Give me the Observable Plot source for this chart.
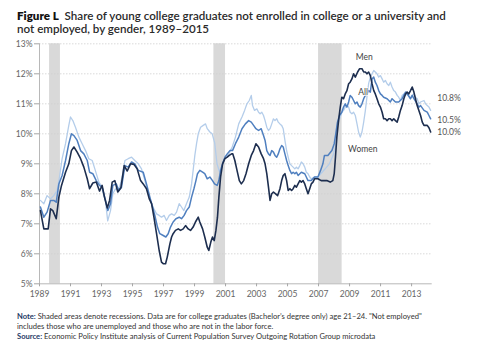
<!DOCTYPE html>
<html>
<head>
<meta charset="utf-8">
<script src="https://cdn.jsdelivr.net/npm/d3@7"></script>
<script src="https://cdn.jsdelivr.net/npm/@observablehq/plot@0.6"></script>
<style>
  html, body { margin: 0; padding: 0; background: #fff; width: 488px; height: 357px; overflow: hidden; }
  #wrap { position: relative; width: 488px; height: 357px; }
  #title { position: absolute; left: 17px; top: 10px; width: 470px; font-family: Lato, sans-serif; font-size: 11.6px; font-weight: 600; line-height: 12.8px; color: #2a2a2a; z-index: 2; white-space: nowrap; }
  #title b { font-weight: 800; color: #111; }
  #chart { position: absolute; left: 0; top: 0; z-index: 1; }
  #notes { position: absolute; left: 17px; top: 310.5px; width: 470px; font-family: Lato, sans-serif; font-size: 7.6px; line-height: 10.2px; color: #333; z-index: 2; white-space: nowrap; }
  #notes b { font-weight: 700; color: #1f3a66; }
</style>
</head>
<body>
<div id="wrap">
  <div id="title"><b>Figure L</b>&nbsp; Share of young college graduates not enrolled in college or a university and<br>not employed, by gender, 1989–2015</div>
  <div id="chart"></div>
  <div id="notes"><b>Note:</b> Shaded areas denote recessions. Data are for college graduates (Bachelor’s degree only) age 21–24. "Not employed"<br>includes those who are unemployed and those who are not in the labor force.<br><b>Source:</b> Economic Policy Institute analysis of Current Population Survey Outgoing Rotation Group microdata</div>
</div>
<script>
// ---- data ----
const menYears = [1989.06,1989.28,1989.56,1989.71,1989.86,1990.08,1990.25,1990.42,1990.68,1990.89,1991.06,1991.22,1991.43,1991.65,1991.86,1992.08,1992.23,1992.44,1992.66,1992.87,1993.04,1993.19,1993.37,1993.52,1993.69,1993.86,1994.05,1994.25,1994.46,1994.66,1994.87,1995.09,1995.30,1995.52,1995.69,1995.90,1996.08,1996.23,1996.38,1996.55,1996.72,1996.87,1996.98,1997.13,1997.24,1997.41,1997.52,1997.62,1997.77,1997.95,1998.10,1998.27,1998.42,1998.59,1998.74,1998.91,1999.06,1999.24,1999.34,1999.52,1999.66,1999.82,1999.92,2000.05,2000.16,2000.27,2000.38,2000.48,2000.57,2000.68,2000.81,2000.96,2001.11,2001.24,2001.39,2001.47,2001.60,2001.74,2001.89,2002.02,2002.17,2002.32,2002.49,2002.66,2002.81,2002.96,2003.13,2003.30,2003.45,2003.55,2003.66,2003.77,2003.87,2003.98,2004.09,2004.23,2004.36,2004.51,2004.62,2004.72,2004.83,2004.94,2005.04,2005.15,2005.26,2005.36,2005.47,2005.57,2005.68,2005.79,2005.89,2006.00,2006.11,2006.21,2006.32,2006.43,2006.53,2006.64,2006.74,2006.96,2007.17,2007.38,2007.53,2007.75,2007.92,2008.01,2008.09,2008.18,2008.29,2008.40,2008.50,2008.61,2008.72,2008.83,2008.94,2009.04,2009.15,2009.26,2009.37,2009.52,2009.65,2009.80,2009.91,2010.02,2010.12,2010.23,2010.34,2010.45,2010.56,2010.66,2010.77,2010.88,2010.99,2011.10,2011.20,2011.31,2011.42,2011.53,2011.63,2011.74,2011.85,2011.96,2012.07,2012.17,2012.28,2012.39,2012.50,2012.61,2012.71,2012.82,2012.93,2013.04,2013.15,2013.25,2013.36,2013.47,2013.58,2013.69,2013.80,2014.01,2014.12,2014.23];
const menValues = [7.44,6.83,6.83,7.50,7.44,7.17,7.89,8.28,8.72,9.00,9.44,9.56,9.39,9.17,8.89,8.50,8.17,8.36,8.39,8.09,8.28,7.89,7.53,7.78,8.39,8.44,8.06,8.20,8.94,8.76,9.00,8.98,8.83,8.44,8.33,8.17,7.83,7.67,7.22,6.67,6.11,5.72,5.67,5.67,5.89,6.33,6.56,6.67,6.78,6.83,6.78,6.83,6.94,6.83,6.78,6.89,7.06,7.22,7.06,6.83,6.56,6.22,6.11,6.39,6.56,6.44,6.78,7.22,7.89,8.56,9.00,9.17,9.22,9.28,9.33,9.33,9.11,8.78,8.44,8.33,8.44,8.67,9.00,9.28,9.44,9.67,9.56,9.33,9.17,9.00,8.67,8.22,7.78,8.00,8.06,8.00,7.94,8.17,8.44,8.61,8.67,8.44,8.11,8.17,8.11,8.17,8.28,8.22,8.33,8.44,8.39,8.44,8.33,8.17,8.00,8.17,8.33,8.39,8.50,8.50,8.44,8.44,8.44,8.39,8.44,8.67,9.22,9.89,10.44,10.89,11.22,11.17,11.33,11.44,11.67,11.72,11.83,12.00,11.89,12.06,12.17,12.17,12.06,12.06,12.00,12.06,11.94,11.67,11.44,11.33,11.17,11.00,10.89,10.72,10.50,10.50,10.44,10.50,10.50,10.44,10.50,10.44,10.39,10.56,10.78,10.94,11.17,11.33,11.39,11.33,11.44,11.56,11.39,11.17,10.94,10.78,10.61,10.39,10.28,10.28,10.20,10.06];

const allYears = [1989.06,1989.28,1989.49,1989.71,1989.92,1990.08,1990.25,1990.46,1990.68,1990.89,1991.06,1991.22,1991.43,1991.65,1991.86,1992.08,1992.23,1992.44,1992.66,1992.87,1993.04,1993.26,1993.41,1993.58,1993.73,1993.95,1994.12,1994.29,1994.51,1994.72,1994.94,1995.15,1995.37,1995.69,1995.90,1996.12,1996.29,1996.44,1996.61,1996.76,1996.98,1997.15,1997.30,1997.45,1997.62,1997.80,1998.01,1998.16,1998.33,1998.48,1998.66,1998.81,1998.96,1999.09,1999.19,1999.34,1999.52,1999.66,1999.82,1999.99,2000.16,2000.29,2000.46,2000.57,2000.68,2000.81,2000.96,2001.11,2001.28,2001.45,2001.64,2001.85,2002.06,2002.28,2002.49,2002.66,2002.81,2002.96,2003.13,2003.30,2003.45,2003.55,2003.66,2003.77,2003.87,2003.98,2004.09,2004.19,2004.30,2004.40,2004.51,2004.62,2004.72,2004.83,2004.94,2005.04,2005.15,2005.26,2005.36,2005.47,2005.57,2005.68,2005.79,2005.89,2006.11,2006.21,2006.32,2006.53,2006.74,2006.96,2007.13,2007.28,2007.38,2007.60,2007.86,2008.01,2008.11,2008.22,2008.35,2008.50,2008.61,2008.72,2008.83,2008.94,2009.04,2009.15,2009.26,2009.37,2009.48,2009.58,2009.69,2009.80,2009.91,2010.02,2010.12,2010.23,2010.34,2010.45,2010.56,2010.66,2010.77,2010.88,2010.99,2011.10,2011.20,2011.42,2011.63,2011.74,2011.96,2012.17,2012.39,2012.50,2012.61,2012.71,2012.93,2013.04,2013.15,2013.36,2013.47,2013.58,2013.80,2014.01,2014.12,2014.23];
const allValues = [7.56,7.22,7.39,7.78,7.78,7.72,8.33,8.61,9.11,9.67,10.00,9.94,9.78,9.44,9.33,9.11,8.72,8.67,8.44,8.28,8.22,7.78,7.44,7.67,8.28,8.33,8.11,8.22,8.94,8.89,9.06,9.00,8.78,8.72,8.33,7.89,7.56,7.28,6.89,6.67,6.61,6.56,6.67,6.89,7.06,7.17,7.22,7.17,7.28,7.44,7.56,7.89,8.17,8.44,8.67,8.78,8.72,8.67,8.50,8.56,8.44,8.33,8.28,8.44,8.78,9.00,9.22,9.33,9.44,9.44,9.67,9.89,10.17,10.33,10.44,10.39,10.28,10.17,10.11,10.17,9.94,9.78,9.44,9.33,9.28,9.44,9.39,9.28,9.22,9.33,9.50,9.61,9.56,9.33,9.11,8.94,8.78,8.67,8.72,8.67,8.72,8.61,8.67,8.72,8.67,8.56,8.44,8.44,8.56,8.56,8.78,9.00,9.28,9.28,9.44,9.67,10.00,10.39,10.61,10.72,10.89,11.00,10.89,11.06,11.28,11.22,11.11,11.00,11.06,10.94,10.89,11.00,11.17,11.28,11.33,11.44,11.39,11.83,11.89,11.72,11.61,11.44,11.33,11.28,11.22,11.17,11.06,11.17,11.06,11.06,11.17,11.28,11.39,11.33,11.17,11.28,11.17,11.00,10.89,10.94,10.78,10.72,10.61,10.50];

const womenYears = [1989.06,1989.28,1989.49,1989.71,1989.92,1990.14,1990.29,1990.46,1990.68,1990.89,1991.00,1991.15,1991.32,1991.54,1991.75,1991.97,1992.18,1992.40,1992.57,1992.83,1993.04,1993.26,1993.40,1993.58,1993.73,1993.90,1994.12,1994.33,1994.51,1994.72,1994.94,1995.15,1995.37,1995.58,1995.80,1996.01,1996.23,1996.38,1996.55,1996.72,1996.87,1997.04,1997.19,1997.37,1997.52,1997.69,1997.84,1998.01,1998.16,1998.31,1998.48,1998.66,1998.81,1998.91,1999.02,1999.13,1999.24,1999.39,1999.56,1999.71,1999.82,1999.99,2000.14,2000.30,2000.45,2000.60,2000.75,2000.90,2001.05,2001.21,2001.43,2001.64,2001.85,2002.06,2002.23,2002.38,2002.53,2002.66,2002.74,2002.87,2003.02,2003.13,2003.23,2003.34,2003.45,2003.55,2003.66,2003.77,2003.87,2003.98,2004.09,2004.19,2004.30,2004.40,2004.51,2004.62,2004.72,2004.83,2004.94,2005.04,2005.15,2005.26,2005.36,2005.47,2005.57,2005.68,2005.79,2005.89,2006.00,2006.11,2006.21,2006.32,2006.43,2006.53,2006.64,2006.74,2006.96,2007.20,2007.45,2007.70,2007.95,2008.10,2008.18,2008.29,2008.40,2008.50,2008.61,2008.72,2008.83,2008.94,2009.04,2009.15,2009.26,2009.37,2009.48,2009.58,2009.69,2009.80,2009.91,2010.02,2010.12,2010.23,2010.34,2010.45,2010.56,2010.66,2010.77,2010.88,2010.99,2011.10,2011.20,2011.31,2011.42,2011.53,2011.63,2011.74,2011.85,2011.96,2012.07,2012.17,2012.28,2012.39,2012.50,2012.61,2012.71,2012.82,2012.93,2013.04,2013.15,2013.25,2013.36,2013.47,2013.58,2013.80,2013.90,2014.01,2014.12,2014.23];
const womenValues = [7.78,7.67,7.94,7.83,7.94,8.11,8.56,9.17,9.67,10.28,10.56,10.44,10.22,9.89,9.67,9.44,9.17,9.11,8.83,8.39,8.22,7.72,7.10,7.44,8.00,8.17,8.11,8.56,9.11,9.17,9.22,9.11,9.00,8.83,8.44,8.00,7.67,7.50,7.33,7.28,7.22,7.28,7.11,7.28,7.33,7.28,7.39,7.67,7.56,7.44,7.67,7.89,8.33,8.78,9.28,9.67,10.00,10.22,10.28,10.33,10.17,10.06,10.00,9.70,9.00,8.75,8.90,9.15,9.20,9.33,9.56,9.89,10.33,10.56,10.78,11.00,11.11,11.28,10.94,10.78,10.83,10.72,10.67,10.72,10.61,10.44,10.22,10.11,10.17,10.33,10.50,10.44,10.50,10.39,10.33,10.28,10.17,9.78,9.44,9.22,9.00,8.94,8.89,8.83,8.89,8.83,8.94,9.06,9.00,8.89,8.72,8.67,8.56,8.50,8.53,8.56,8.56,8.70,8.85,9.00,9.30,9.60,10.22,10.39,10.56,10.72,10.78,10.89,10.94,10.89,10.72,10.67,10.72,10.61,10.33,10.06,9.89,10.06,10.39,10.78,11.22,11.67,11.89,12.00,12.11,12.06,12.00,11.89,11.94,11.83,11.72,11.78,11.67,11.61,11.72,11.56,11.44,11.39,11.28,11.22,11.11,11.28,11.33,11.28,11.39,11.28,11.17,11.28,11.33,11.22,11.17,11.00,11.06,11.11,11.00,10.94,10.89,10.78];

const recessionStarts = [1989.65, 2000.25, 2007.0];
const recessionEnds   = [1990.35, 2001.0, 2008.52];

const xTickYears = [1989,1991,1993,1995,1997,1999,2001,2003,2005,2007,2009,2011,2013];
const yTickValues = [5,6,7,8,9,10,11,12,13];
const yTickLabels = ["5%","6%","7%","8%","9%","10%","11%","12%","13%"];
const xEnd = 2014.33;

const seriesNames = ["Men", "All", "Women"];
const seriesLabelYears = [2009.95, 2009.88, 2009.85];
const seriesLabelValues = [12.55, 11.38, 9.48];

const endLabels = ["10.8%", "10.5%", "10.0%"];
const endLabelValues = [11.17, 10.44, 10.05];

// ---- build tables ----
const toRows = (xs, ys) => xs.map((x, i) => ({x, y: ys[i]}));
const men = toRows(menYears, menValues);
const all = toRows(allYears, allValues);
const women = toRows(womenYears, womenValues);
const recessions = recessionStarts.map((s, i) => ({x1: s, x2: recessionEnds[i]}));
const seriesLabels = seriesNames.map((t, i) => ({t, x: seriesLabelYears[i], y: seriesLabelValues[i]}));
const ends = endLabels.map((t, i) => ({t, x: xEnd, y: endLabelValues[i]}));

const font = "Lato, sans-serif";
const chart = Plot.plot({
  width: 488,
  height: 305,
  marginLeft: 39,
  marginRight: 56.3,
  marginTop: 43.3,
  marginBottom: 21.7,
  style: {background: "transparent", fontFamily: font, overflow: "visible"},
  x: {domain: [1989, xEnd], label: null},
  y: {domain: [5, 13], label: null},
  marks: [
    Plot.rect(recessions, {x1: "x1", x2: "x2", y1: 5, y2: 13, fill: "#d9d9d9"}),
    Plot.ruleY(yTickValues.filter(v => v > 5), {x1: 1989, x2: xEnd, stroke: "#cfcfcf", strokeWidth: 0.8, strokeDasharray: "1.5,1.5"}),
    Plot.ruleX([1989], {y1: 5, y2: 13, stroke: "#a6a6a6", strokeWidth: 0.8}),
    Plot.ruleY([5], {x1: 1989, x2: xEnd, stroke: "#a6a6a6", strokeWidth: 0.8}),
    Plot.axisY({ticks: yTickValues, tickFormat: (d) => yTickLabels[yTickValues.indexOf(d)], tickSize: 5, tickPadding: 2, stroke: "#a6a6a6", fill: "#666", fontSize: 8.5, fontFamily: font, label: null}),
    Plot.axisX({ticks: xTickYears, tickFormat: (d) => String(d), tickSize: 3, tickPadding: 4, stroke: "#a6a6a6", fill: "#666", fontSize: 8.5, fontFamily: font, label: null}),
    Plot.line(women, {x: "x", y: "y", stroke: "#b4cdea", strokeWidth: 1.3}),
    Plot.line(all, {x: "x", y: "y", stroke: "#4f7fbf", strokeWidth: 1.5}),
    Plot.line(men, {x: "x", y: "y", stroke: "#1d2e4f", strokeWidth: 1.6}),
    Plot.text(seriesLabels, {x: "x", y: "y", text: "t", fill: "#444", stroke: "white", strokeWidth: 1.5, paintOrder: "stroke", fontSize: 8.5, fontFamily: font}),
    Plot.text(ends, {x: "x", y: "y", text: "t", dx: 5, textAnchor: "start", fill: "#555", fontSize: 8.5, fontFamily: font})
  ]
});
document.getElementById("chart").appendChild(chart);
</script>
</body>
</html>
